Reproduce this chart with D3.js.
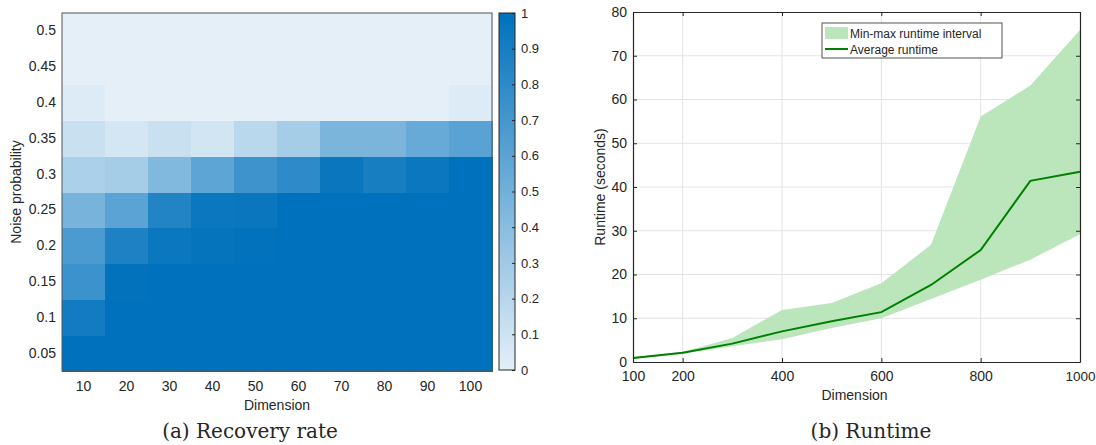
<!DOCTYPE html>
<html>
<head>
<meta charset="utf-8">
<script src="https://cdn.jsdelivr.net/npm/d3@7"></script>
<style>
  body { margin: 0; background: #fff; }
  svg text { font-family: "Liberation Sans", Arial, sans-serif; fill: #262626; }
  .caption { font-family: "DejaVu Serif", serif; }
</style>
</head>
<body>
<svg id="chart" width="1096" height="445"></svg>
<script>
// ---- data: recovery rate (rows = noise probability, cols = dimension)
var dims = [10, 20, 30, 40, 50, 60, 70, 80, 90, 100];
var noiseProbs = [0.05, 0.1, 0.15, 0.2, 0.25, 0.3, 0.35, 0.4, 0.45, 0.5];
var recovery = [
    [1, 1, 1, 1, 1, 1, 1, 1, 1, 1],                                  // 0.05
    [0.92, 1, 1, 1, 1, 1, 1, 1, 1, 1],                               // 0.1
    [0.74, 0.99, 1, 1, 1, 1, 1, 1, 1, 1],                            // 0.15
    [0.67, 0.87, 0.95, 0.98, 0.99, 1, 1, 1, 1, 1],                   // 0.2
    [0.48, 0.6, 0.85, 0.95, 0.96, 1, 1, 1, 1, 1],                    // 0.25
    [0.25, 0.27, 0.44, 0.59, 0.73, 0.8, 0.96, 0.9, 0.95, 1],         // 0.3
    [0.12, 0.07, 0.12, 0.08, 0.19, 0.27, 0.46, 0.46, 0.55, 0.61],    // 0.35
    [0.03, 0, 0, 0, 0, 0, 0, 0, 0, 0.03],                            // 0.4
    [0, 0, 0, 0, 0, 0, 0, 0, 0, 0],                                  // 0.45
    [0, 0, 0, 0, 0, 0, 0, 0, 0, 0]                                   // 0.5
];
var colorbarTicks = [0, 0.1, 0.2, 0.3, 0.4, 0.5, 0.6, 0.7, 0.8, 0.9, 1];

// ---- data: runtime
var runDims = [100, 200, 300, 400, 500, 600, 700, 800, 900, 1000];
var runAvg = [0.9, 2.1, 4.2, 7.0, 9.3, 11.4, 17.6, 25.6, 41.4, 43.5];
var runMin = [0.7, 1.9, 3.6, 5.2, 7.8, 10.0, 14.4, 18.8, 23.4, 29.2];
var runMax = [1.1, 2.3, 5.5, 11.9, 13.5, 18.0, 26.8, 56.1, 63.2, 75.9];
var runXTicks = [100, 200, 400, 600, 800, 1000];
var runYTicks = [0, 10, 20, 30, 40, 50, 60, 70, 80];

var svg = d3.select('#chart');
var axisColor = '#262626';

// colour map: pale blue -> matlab blue
var color = d3.scaleLinear().domain([0, 1]).range(['#e4eff8', '#0071bc']).interpolate(d3.interpolateRgb);

// ===================== (a) heatmap =====================
var hm = { left: 62, right: 492, top: 13, bottom: 371 };

var xBand = d3.scaleBand().domain(dims).range([hm.left, hm.right]);
var yBand = d3.scaleBand().domain(noiseProbs).range([hm.bottom, hm.top]);

var cells = [];
recovery.forEach(function(row, i){
    row.forEach(function(v, j){
        cells.push({ noise: noiseProbs[i], dim: dims[j], value: v });
    });
});

var gHeat = svg.append('g');
gHeat.selectAll('rect')
    .data(cells)
    .enter().append('rect')
    .attr('x', function(d){ return xBand(d.dim); })
    .attr('y', function(d){ return yBand(d.noise); })
    .attr('width', xBand.bandwidth() + 0.5)
    .attr('height', yBand.bandwidth() + 0.5)
    .attr('shape-rendering', 'crispEdges')
    .attr('fill', function(d){ return color(d.value); });

gHeat.append('rect')
    .attr('x', hm.left).attr('y', hm.top)
    .attr('width', hm.right - hm.left).attr('height', hm.bottom - hm.top)
    .attr('fill', 'none').attr('stroke', '#555').attr('stroke-width', 1);

var xAxisHeat = d3.axisBottom(xBand).tickSize(0).tickPadding(10);
gHeat.append('g')
    .attr('transform', 'translate(0,' + hm.bottom + ')')
    .call(xAxisHeat)
    .call(function(g){ g.select('.domain').remove(); })
    .selectAll('text').attr('font-size', 14).attr('fill', axisColor);

var yAxisHeat = d3.axisLeft(yBand).tickSize(0).tickPadding(6);
gHeat.append('g')
    .attr('transform', 'translate(' + hm.left + ',0)')
    .call(yAxisHeat)
    .call(function(g){ g.select('.domain').remove(); })
    .selectAll('text').attr('font-size', 14).attr('fill', axisColor);

gHeat.append('text')
    .attr('x', (hm.left + hm.right) / 2).attr('y', 410)
    .attr('text-anchor', 'middle').attr('font-size', 14)
    .text('Dimension');

gHeat.append('text')
    .attr('transform', 'translate(21,' + ((hm.top + hm.bottom) / 2) + ') rotate(-90)')
    .attr('text-anchor', 'middle').attr('font-size', 14)
    .text('Noise probability');

// colorbar
var cb = { left: 499, right: 515, top: 13, bottom: 370 };
var defs = svg.append('defs');
var grad = defs.append('linearGradient').attr('id', 'cbGrad')
    .attr('x1', 0).attr('y1', 1).attr('x2', 0).attr('y2', 0);
grad.append('stop').attr('offset', '0%').attr('stop-color', color(0));
grad.append('stop').attr('offset', '100%').attr('stop-color', color(1));

var cbScale = d3.scaleLinear().domain([0, 1]).range([cb.bottom, cb.top]);
svg.append('rect')
    .attr('x', cb.left).attr('y', cb.top)
    .attr('width', cb.right - cb.left).attr('height', cb.bottom - cb.top)
    .attr('fill', 'url(#cbGrad)').attr('stroke', axisColor).attr('stroke-width', 1);

svg.append('g')
    .attr('transform', 'translate(' + cb.right + ',0)')
    .call(d3.axisRight(cbScale).tickValues(colorbarTicks).tickFormat(d3.format('')).tickSize(-3).tickPadding(6))
    .call(function(g){
        g.select('.domain').remove();
        g.selectAll('line').attr('stroke', axisColor);
        g.selectAll('text').attr('font-size', 13).attr('fill', axisColor);
    });

// ===================== (b) runtime =====================
var rt = { left: 633, right: 1080, top: 12, bottom: 362 };
var x = d3.scaleLinear().domain([100, 1000]).range([rt.left, rt.right]);
var y = d3.scaleLinear().domain([0, 80]).range([rt.bottom, rt.top]);

var gRun = svg.append('g');

// grid
gRun.append('g').selectAll('line')
    .data(runXTicks.slice(1, -1)).enter().append('line')
    .attr('x1', function(d){ return x(d); }).attr('x2', function(d){ return x(d); })
    .attr('y1', rt.top).attr('y2', rt.bottom)
    .attr('stroke', '#e3e3e3').attr('stroke-width', 1);
gRun.append('g').selectAll('line')
    .data(runYTicks.slice(1, -1)).enter().append('line')
    .attr('x1', rt.left).attr('x2', rt.right)
    .attr('y1', function(d){ return y(d); }).attr('y2', function(d){ return y(d); })
    .attr('stroke', '#e3e3e3').attr('stroke-width', 1);

var runData = runDims.map(function(d, i){
    return { dim: d, avg: runAvg[i], min: runMin[i], max: runMax[i] };
});

var area = d3.area()
    .x(function(d){ return x(d.dim); })
    .y0(function(d){ return y(d.min); })
    .y1(function(d){ return y(d.max); });

gRun.append('path').datum(runData)
    .attr('d', area)
    .attr('fill', '#bbe5bb');

var line = d3.line()
    .x(function(d){ return x(d.dim); })
    .y(function(d){ return y(d.avg); });

gRun.append('path').datum(runData)
    .attr('d', line)
    .attr('fill', 'none').attr('stroke', '#008000').attr('stroke-width', 2);

// axes (box with inward ticks)
gRun.append('g')
    .attr('transform', 'translate(0,' + rt.bottom + ')')
    .call(d3.axisBottom(x).tickValues(runXTicks).tickFormat(d3.format('d')).tickSize(-4).tickPadding(9).tickSizeOuter(0))
    .call(styleAxis);
gRun.append('g')
    .attr('transform', 'translate(0,' + rt.top + ')')
    .call(d3.axisTop(x).tickValues(runXTicks).tickSize(-4).tickFormat('').tickSizeOuter(0))
    .call(styleAxis);
gRun.append('g')
    .attr('transform', 'translate(' + rt.left + ',0)')
    .call(d3.axisLeft(y).tickValues(runYTicks).tickSize(-4).tickPadding(6).tickSizeOuter(0))
    .call(styleAxis);
gRun.append('g')
    .attr('transform', 'translate(' + rt.right + ',0)')
    .call(d3.axisRight(y).tickValues(runYTicks).tickSize(-4).tickFormat('').tickSizeOuter(0))
    .call(styleAxis);

function styleAxis(g){
    g.select('.domain').attr('stroke', axisColor).attr('stroke-width', 1.2);
    g.selectAll('.tick line').attr('stroke', axisColor);
    g.selectAll('text').attr('font-size', 14).attr('fill', axisColor);
}

// keep the last x label inside the page
gRun.selectAll('.tick text').filter(function(d){ return d === 1000; }).attr('font-size', 13.5);

gRun.append('text')
    .attr('x', (rt.left + rt.right) / 2 - 2).attr('y', 400)
    .attr('text-anchor', 'middle').attr('font-size', 14)
    .text('Dimension');

gRun.append('text')
    .attr('transform', 'translate(605,' + ((rt.top + rt.bottom) / 2) + ') rotate(-90)')
    .attr('text-anchor', 'middle').attr('font-size', 14)
    .text('Runtime (seconds)');

// legend
var lg = gRun.append('g').attr('transform', 'translate(822,23)');
lg.append('rect').attr('width', 180).attr('height', 35)
    .attr('fill', '#fff').attr('stroke', axisColor).attr('stroke-width', 0.8);
lg.append('rect').attr('x', 3).attr('y', 4).attr('width', 23).attr('height', 12).attr('fill', '#bbe5bb');
lg.append('line').attr('x1', 3).attr('x2', 26).attr('y1', 26).attr('y2', 26)
    .attr('stroke', '#008000').attr('stroke-width', 2);
lg.append('text').attr('x', 28).attr('y', 14.5).attr('font-size', 12).text('Min-max runtime interval');
lg.append('text').attr('x', 28).attr('y', 30.5).attr('font-size', 12).text('Average runtime');

// captions
svg.append('text').attr('class', 'caption')
    .attr('x', 250).attr('y', 438).attr('text-anchor', 'middle').attr('font-size', 20)
    .text('(a) Recovery rate');
svg.append('text').attr('class', 'caption')
    .attr('x', 871).attr('y', 438).attr('text-anchor', 'middle').attr('font-size', 20)
    .text('(b) Runtime');
</script>
</body>
</html>
